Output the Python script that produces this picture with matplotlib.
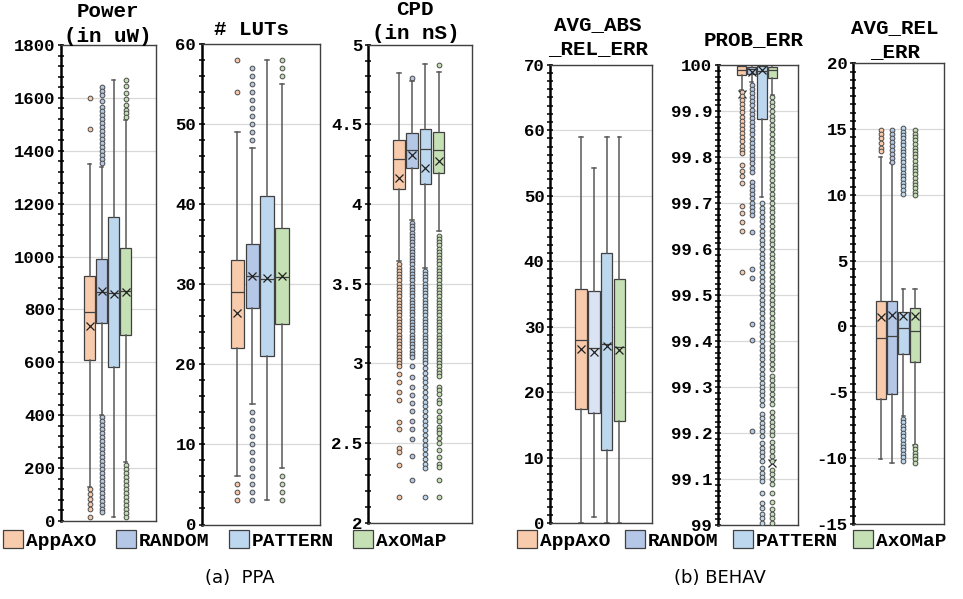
import matplotlib
matplotlib.use('Agg')
import matplotlib.pyplot as plt
from matplotlib.patches import Patch
from matplotlib.ticker import MultipleLocator, FuncFormatter

plt.rcParams['font.family'] = ['Liberation Mono', 'DejaVu Sans']
plt.rcParams['font.weight'] = 'bold'

series = ['AppAxO', 'RANDOM', 'PATTERN', 'AxOMaP']
colors = ['#F8CBAD', '#B4C7E7', '#BDD7EE', '#C5E0B4']

# ---- Power (in uW)
power_q1 = [608, 750, 581, 703]
power_med = [792, 867, 861, 869]
power_q3 = [927, 989, 1148, 1032]
power_mean = [738, 868, 858, 866]
power_lo = [130, 400, 14, 225]
power_hi = [1349, 1340, 1669, 1515]
power_out = [
    [1600, 1481, 120, 102, 83, 64, 46, 14],
    [1641, 1625, 1610, 1590, 1565, 1550, 1535, 1520, 1505, 1490, 1475, 1460, 1445,
     1430, 1415, 1400, 1385, 1368, 1352,
     392, 377, 362, 347, 332, 317, 302, 287, 272, 257, 242, 227, 212, 197, 182,
     167, 152, 137, 122, 107, 92, 77, 62, 47, 35],
    [],
    [1667, 1644, 1619, 1594, 1572, 1553, 1541, 1528,
     212, 197, 182, 167, 152, 137, 122, 107, 92, 77, 62, 47, 32, 17],
]

# ---- # LUTs
luts_q1 = [22, 27, 21, 25]
luts_med = [29, 31, 30.7, 30.9]
luts_q3 = [33, 35, 41, 37]
luts_mean = [26.4, 31, 30.8, 31]
luts_lo = [6, 15, 3, 7]
luts_hi = [49, 47, 58, 55]
luts_out = [
    [58, 54, 5, 4, 3],
    [57, 56, 55, 54, 53, 52, 51, 50, 49, 48, 14, 13, 12, 11, 10, 9, 8, 7, 6, 5, 4, 3],
    [],
    [58, 57, 56, 6, 5, 4, 3],
]

# ---- CPD (in nS)
cpd_q1 = [4.092, 4.223, 4.123, 4.196]
cpd_med = [4.28, 4.338, 4.343, 4.34]
cpd_q3 = [4.401, 4.443, 4.468, 4.453]
cpd_mean = [4.16, 4.307, 4.227, 4.27]
cpd_lo = [3.64, 3.90, 3.60, 3.83]
cpd_hi = [4.82, 4.77, 4.88, 4.826]
cpd_out = [
    [3.62, 3.60, 3.58, 3.56, 3.54, 3.52, 3.50, 3.48, 3.46, 3.44, 3.42, 3.40, 3.38,
     3.36, 3.34, 3.32, 3.30, 3.28, 3.26, 3.24, 3.22, 3.20, 3.18, 3.16, 3.14, 3.12,
     3.10, 3.08, 3.06, 3.04, 3.02, 3.00, 2.98,
     2.93, 2.88, 2.82, 2.77, 2.63, 2.59, 2.47, 2.44, 2.36, 2.16],
    [4.79,
     3.88, 3.86, 3.84, 3.82, 3.80, 3.78, 3.76, 3.74, 3.72, 3.70, 3.68, 3.66, 3.64,
     3.62, 3.60, 3.58, 3.56, 3.54, 3.52, 3.50, 3.48, 3.46, 3.44, 3.42, 3.40, 3.38,
     3.36, 3.34, 3.32, 3.30, 3.28, 3.26, 3.24, 3.22, 3.20, 3.18, 3.16, 3.14, 3.12,
     3.10, 3.08, 3.06, 3.04,
     2.98, 2.915, 2.85, 2.80, 2.75, 2.70, 2.64, 2.585, 2.525, 2.42, 2.265],
    [3.58, 3.56, 3.54, 3.52, 3.50, 3.48, 3.46, 3.44, 3.42, 3.40, 3.38, 3.36, 3.34,
     3.32, 3.30, 3.28, 3.26, 3.24, 3.22, 3.20, 3.18, 3.16, 3.14, 3.12, 3.10, 3.08,
     3.06, 3.04, 3.02, 3.00,
     2.97, 2.94, 2.91, 2.88, 2.85, 2.82, 2.79, 2.76, 2.73, 2.70, 2.67, 2.64, 2.61,
     2.58, 2.55, 2.52, 2.49, 2.46, 2.43, 2.40, 2.37, 2.34, 2.16],
    [4.87,
     3.80, 3.78, 3.76, 3.74, 3.72, 3.70, 3.68, 3.66, 3.64, 3.62, 3.60, 3.58, 3.56,
     3.54, 3.52, 3.50, 3.48, 3.46, 3.44, 3.42, 3.40, 3.38, 3.36, 3.34, 3.32, 3.30,
     3.28, 3.26, 3.24, 3.22, 3.20, 3.18, 3.16, 3.14, 3.12, 3.10, 3.08, 3.06, 3.04,
     3.02, 3.00, 2.98, 2.96, 2.94, 2.92,
     2.85, 2.83, 2.81, 2.77, 2.75, 2.70, 2.665, 2.635, 2.60, 2.58, 2.56, 2.53, 2.50,
     2.455, 2.41, 2.37, 2.35, 2.265, 2.16],
]

# ---- AVG_ABS_REL_ERR
abs_q1 = [17.5, 16.9, 11.2, 15.65]
abs_med = [28.0, 26.8, 27.4, 26.9]
abs_q3 = [35.8, 35.5, 41.3, 37.3]
abs_mean = [26.6, 26.1, 27.1, 26.4]
abs_lo = [0, 1.0, 0, 0]
abs_hi = [59, 54.3, 59, 59]
abs_out = [[], [], [], []]

# ---- PROB_ERR
prob_q1 = [99.978, 99.980, 99.882, 99.971]
prob_med = [99.990, 99.992, 99.988, 99.990]
prob_q3 = [99.998, 99.996, 99.997, 99.996]
prob_mean = [99.938, 99.985, 99.990, 99.134]
prob_lo = [99.946, 99.962, 99.712, 99.935]
prob_hi = [100.0, 100.0, 100.0, 100.0]
prob_out = [
    [99.942, 99.933, 99.924, 99.915, 99.906, 99.897, 99.888, 99.879, 99.870, 99.861,
     99.852, 99.843, 99.834, 99.825, 99.816, 99.808, 99.783, 99.770, 99.759, 99.744,
     99.694, 99.678, 99.658, 99.640, 99.549],
    [99.957, 99.948, 99.939, 99.930, 99.921, 99.912, 99.903, 99.894, 99.885, 99.876,
     99.867, 99.858, 99.849, 99.840, 99.831, 99.822, 99.813, 99.804, 99.795, 99.786,
     99.777, 99.768, 99.746, 99.737, 99.728, 99.719, 99.710, 99.701, 99.692, 99.683,
     99.674, 99.638, 99.556, 99.536, 99.438, 99.402, 99.204],
    [99.70, 99.69, 99.68, 99.67, 99.66, 99.65, 99.64, 99.63, 99.62, 99.61, 99.60,
     99.59, 99.58, 99.57, 99.56, 99.55, 99.54, 99.53, 99.52, 99.51, 99.50, 99.49,
     99.48, 99.47, 99.46, 99.45, 99.44, 99.43, 99.42, 99.41, 99.40, 99.39, 99.38,
     99.37, 99.36, 99.35, 99.34,
     99.328, 99.319, 99.309, 99.301, 99.292, 99.283, 99.272, 99.261, 99.241, 99.232,
     99.222, 99.214, 99.204, 99.194, 99.178, 99.167, 99.158, 99.149, 99.140, 99.123,
     99.114, 99.105, 99.096, 99.070, 99.047, 99.036, 99.025, 99.015, 99.004],
    [99.93, 99.92, 99.91, 99.90, 99.89, 99.88, 99.87, 99.86, 99.85, 99.84, 99.83,
     99.82, 99.81, 99.80, 99.79, 99.78, 99.77, 99.76, 99.75, 99.74, 99.73, 99.72,
     99.71, 99.70, 99.69, 99.68, 99.67, 99.66, 99.65, 99.64, 99.63, 99.62, 99.61,
     99.60, 99.59, 99.58, 99.57, 99.56, 99.55, 99.54, 99.53, 99.52, 99.51, 99.50,
     99.49, 99.48, 99.47, 99.46, 99.45, 99.44, 99.43, 99.42, 99.41, 99.40, 99.39,
     99.38, 99.37, 99.36, 99.35, 99.34,
     99.325, 99.315, 99.305, 99.295, 99.285, 99.275, 99.262, 99.245, 99.235, 99.225,
     99.215, 99.205, 99.195, 99.18, 99.17, 99.16, 99.15, 99.14, 99.12, 99.11, 99.10,
     99.09, 99.07, 99.05, 99.035, 99.025, 99.015, 99.005],
]

# ---- AVG_REL_ERR
rel_q1 = [-5.51, -5.13, -2.09, -2.73]
rel_med = [-0.88, -0.76, -0.12, -0.38]
rel_q3 = [1.90, 1.90, 1.09, 1.40]
rel_mean = [0.68, 0.89, 0.76, 0.76]
rel_lo = [-10.07, -10.37, -6.84, -8.98]
rel_hi = [12.9, 12.4, 2.84, 2.84]
rel_out = [
    [14.9, 14.6, 14.3, 13.95, 13.6, 13.3],
    [14.9, 14.6, 14.3, 14.0, 13.7, 13.4, 13.1, 12.8, 12.5],
    [15.1, 14.8, 14.55, 14.3, 14.05, 13.8, 13.5, 13.25, 13.0, 12.75, 12.5, 12.2,
     11.95, 11.7, 11.45, 11.2, 10.9, 10.65, 10.4, 10.1,
     -7.0, -7.3, -7.55, -7.8, -8.1, -8.35, -8.6, -8.9, -9.15, -9.4, -9.7, -9.95, -10.2],
    [14.9, 14.65, 14.4, 14.15, 13.9, 13.6, 13.35, 13.1, 12.85, 12.6, 12.3, 12.05,
     11.8, 11.55, 11.3, 11.0, 10.75, 10.5, 10.25, 10.0,
     -9.1, -9.35, -9.6, -9.85, -10.1, -10.35],
]

W, H = 963, 599
fig = plt.figure(figsize=(W / 100, H / 100), dpi=100)


def px_rect(x0, y0, x1, y1):
    return [x0 / W, 1 - y1 / H, (x1 - x0) / W, (y1 - y0) / H]


def draw_panel(rect, q1, med, q3, mean, lo, hi, out, ylim, major, minor, box_colors):
    ax = fig.add_axes(px_rect(*rect))
    stats = []
    for i in range(4):
        stats.append(dict(q1=q1[i], med=med[i], q3=q3[i], mean=mean[i],
                          whislo=lo[i], whishi=hi[i], fliers=out[i]))
    bp = ax.bxp(stats, positions=[1, 2, 3, 4], widths=0.9, patch_artist=True,
                showmeans=True, capwidths=0.3,
                boxprops=dict(edgecolor='#404040', linewidth=0.9),
                medianprops=dict(color='#404040', linewidth=0.9),
                whiskerprops=dict(color='#595959', linewidth=1.1),
                capprops=dict(color='#595959', linewidth=1.1),
                meanprops=dict(marker='x', markeredgecolor='#222222', markersize=6,
                               markeredgewidth=0.9),
                flierprops=dict(marker='o', markersize=3.4, markeredgewidth=0.7,
                                markeredgecolor='#4a4a4a'))
    for i in range(4):
        bp['boxes'][i].set_facecolor(box_colors[i])
        bp['fliers'][i].set_markerfacecolor(colors[i])
        bp['fliers'][i].set_zorder(3)
    ax.set_xlim(-1.4, 6.55)
    ax.set_ylim(*ylim)
    ax.set_xticks([])
    ax.yaxis.set_major_locator(MultipleLocator(major))
    ax.yaxis.set_minor_locator(MultipleLocator(minor))
    ax.yaxis.set_major_formatter(FuncFormatter(lambda v, p: f'{round(v, 6):g}'))
    ax.yaxis.grid(True, color='#D9D9D9', linewidth=0.9)
    ax.set_axisbelow(True)
    ax.tick_params(axis='y', which='both', direction='inout', length=4, width=1.1,
                   labelsize=12.5, pad=2)
    for s in ['top', 'right', 'bottom']:
        ax.spines[s].set_color('#404040')
        ax.spines[s].set_linewidth(1.0)
    ax.spines['left'].set_linewidth(1.8)
    ax.spines['left'].set_color('black')
    return ax


abs_colors = [colors[0], '#DAE3F3', colors[2], colors[3]]

draw_panel((61, 45, 156, 521), power_q1, power_med, power_q3, power_mean, power_lo,
           power_hi, power_out, (0, 1800), 200, 40, colors)
draw_panel((201.7, 44.3, 320, 524.5), luts_q1, luts_med, luts_q3, luts_mean, luts_lo,
           luts_hi, luts_out, (0, 60), 10, 2, colors)
draw_panel((367.7, 44.6, 472, 522.6), cpd_q1, cpd_med, cpd_q3, cpd_mean, cpd_lo,
           cpd_hi, cpd_out, (2, 5), 0.5, 0.1, colors)
draw_panel((550, 64.7, 652.3, 523.2), abs_q1, abs_med, abs_q3, abs_mean, abs_lo,
           abs_hi, abs_out, (0, 70), 10, 1.25, abs_colors)
draw_panel((717.7, 65, 797.7, 525), prob_q1, prob_med, prob_q3, prob_mean, prob_lo,
           prob_hi, prob_out, (99, 100), 0.1, 0.0125, colors)
draw_panel((853.3, 63.3, 944, 523.8), rel_q1, rel_med, rel_q3, rel_mean, rel_lo,
           rel_hi, rel_out, (-15, 20), 5, 0.625, colors)

# panel titles (text, x centre px, baseline px)
titles = [('Power', 108, 16.7), ('(in uW)', 108, 41.7), ('# LUTs', 252, 35),
          ('CPD', 415, 15), ('(in nS)', 416, 39.3), ('AVG_ABS', 598, 30),
          ('_REL_ERR', 598, 54.3), ('PROB_ERR', 754, 45), ('AVG_REL', 895, 32.7),
          ('_ERR', 895, 56.7)]
for t, x, y in titles:
    fig.text(x / W, 1 - y / H, t, ha='center', va='baseline', fontsize=15,
             fontweight='bold')

handles = [Patch(facecolor=c, edgecolor='#404040', linewidth=0.9) for c in colors]
for x0, cs in [(3, 1.0), (517, 0.75)]:
    fig.legend(handles, series, loc='center left', bbox_to_anchor=(x0 / W, 1 - 540 / H),
               ncol=4, frameon=False, handlelength=1.03, handleheight=1.0,
               handletextpad=0.15, columnspacing=cs, borderpad=0, borderaxespad=0,
               prop=dict(weight='bold', size=14))

cap_font = ['Liberation Sans Narrow', 'DejaVu Sans']
fig.text(240 / W, 1 - 578 / H, '(a)  PPA', ha='center', va='center', fontsize=13,
         family=cap_font, fontweight='normal')
fig.text(720 / W, 1 - 578 / H, '(b) BEHAV', ha='center', va='center', fontsize=13,
         family=cap_font, fontweight='normal')

fig.savefig('out.png', dpi=100)
